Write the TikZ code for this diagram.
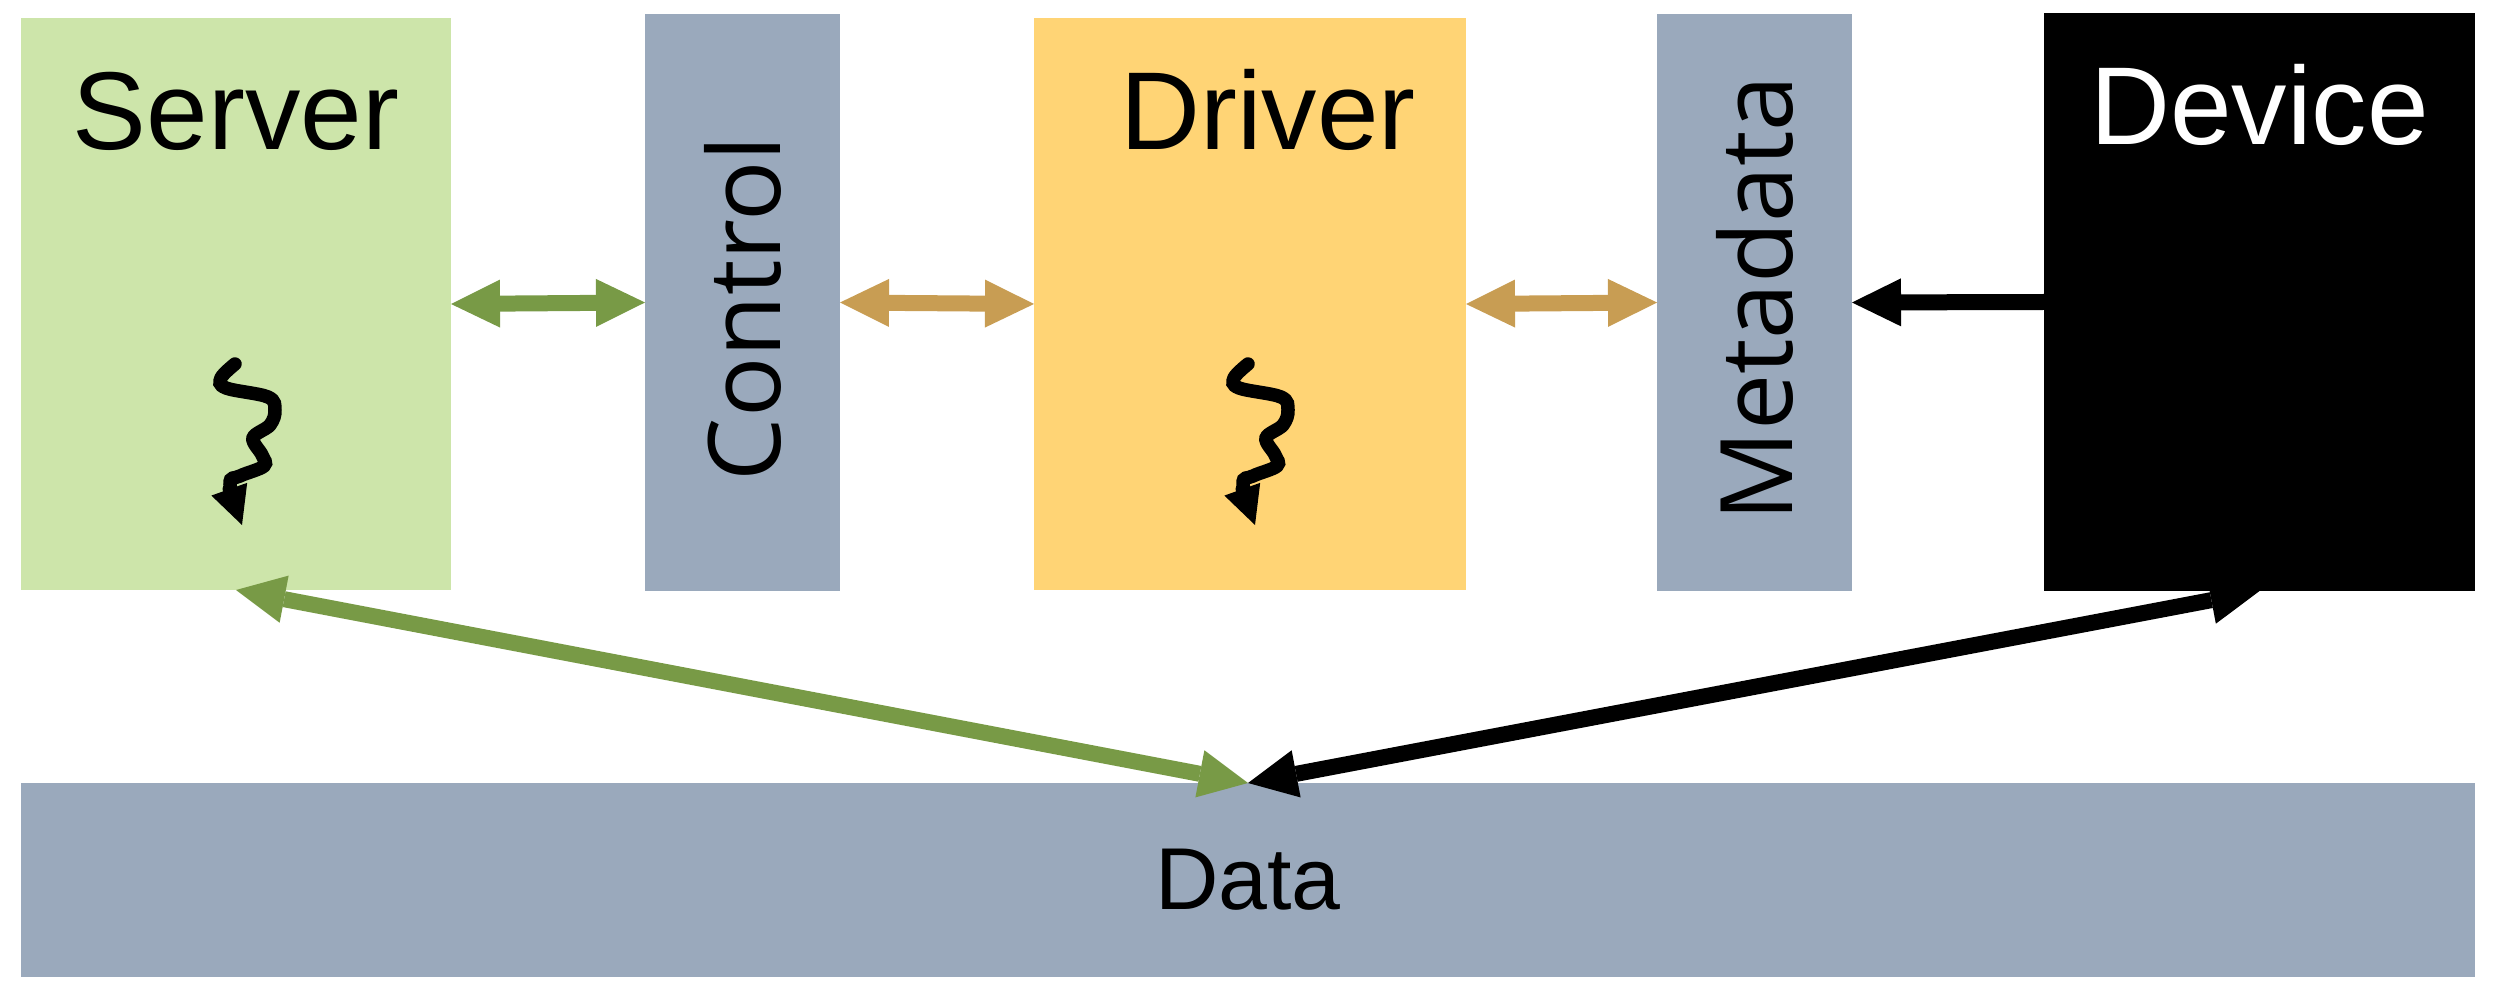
\documentclass[tikz,border=0pt]{standalone}
\usepackage{fontspec}
\setmainfont{Liberation Sans}
\newfontfamily\vertfont{Open Sans}
\usetikzlibrary{arrows.meta}
\definecolor{servergreen}{RGB}{205,229,170}
\definecolor{slateblue}{RGB}{154,169,188}
\definecolor{driveryellow}{RGB}{255,212,117}
\definecolor{linkgreen}{RGB}{120,154,70}
\definecolor{linktan}{RGB}{200,157,83}
\begin{document}
\begin{tikzpicture}[
  block/.style={inner sep=0pt, outer sep=0pt, draw=none},
  hlabel/.style={inner sep=0pt, font=\fontsize{31.5}{36}\selectfont},
  vlabel/.style={inner sep=0pt, rotate=90, font=\vertfont\fontsize{28.5}{34}\selectfont},
  link/.style={line width=1.6mm, >={Triangle[length=4.9mm,width=4.8mm,line width=0pt]}},
  squig/.style={line width=1.35mm, line cap=round, -{Triangle[length=3.8mm,width=3.8mm,line width=0pt]}}
]
\useasboundingbox (0,0) rectangle (25,10.04);
\node[block, fill=servergreen, minimum width=4.30cm, minimum height=5.72cm] (server) at (2.36,7.00) {};
\node[block, fill=slateblue, minimum width=1.95cm, minimum height=5.77cm] (control) at (7.425,7.015) {};
\node[block, fill=driveryellow, minimum width=4.32cm, minimum height=5.72cm] (driver) at (12.50,7.00) {};
\node[block, fill=slateblue, minimum width=1.95cm, minimum height=5.77cm] (metadata) at (17.545,7.015) {};
\node[block, fill=black, minimum width=4.31cm, minimum height=5.78cm] (device) at (22.595,7.02) {};
\node[block, fill=slateblue, minimum width=24.54cm, minimum height=1.94cm] (data) at (12.48,1.24) {};

\node[hlabel, anchor=base] (serverlbl) at ([yshift=-1.32cm]server.north) {Server};
\node[hlabel, anchor=base] (driverlbl) at ([xshift=0.18cm,yshift=-1.32cm]driver.north) {Driver};
\node[hlabel, anchor=base, text=white] (devicelbl) at ([yshift=-1.32cm]device.north) {Device};
\node[hlabel, font=\fontsize{25}{30}\selectfont] (datalbl) at (data.center) {Data};
\node[vlabel] (controllbl) at ([yshift=-0.06cm]control.center) {Control};
\node[vlabel] (metadatalbl) at ([yshift=0.04cm]metadata.center) {Metadata};

\draw[link, linkgreen, <->] (server.east) -- (control.west);
\draw[link, linktan, <->] (control.east) -- (driver.west);
\draw[link, linktan, <->] (driver.east) -- (metadata.west);
\draw[link, black, ->] (device.west) -- (metadata.east);
\draw[link, linkgreen, <->] (data.north) -- (server.south);
\draw[link, black, <->] (data.north) -- (device.south);

\foreach \b in {server,driver}
  \draw[squig, shift={(\b.north west)}] plot[smooth, tension=0.6] coordinates {
    (2.14,-3.46) (2.00,-3.60) (2.05,-3.70) (2.47,-3.79) (2.54,-3.92) (2.49,-4.07)
    (2.32,-4.20) (2.41,-4.37) (2.43,-4.48) (2.19,-4.58) (2.09,-4.66) (2.21,-5.07)};
\end{tikzpicture}
\end{document}
